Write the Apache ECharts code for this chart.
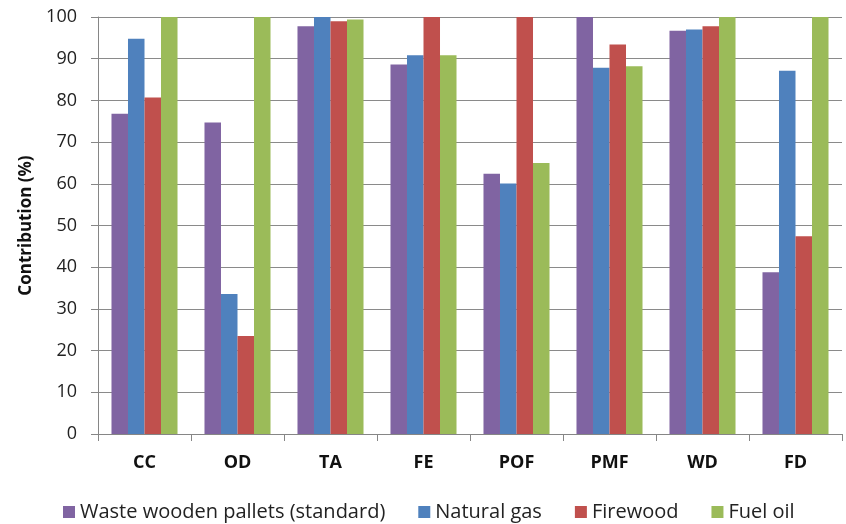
<!DOCTYPE html>
<html>
<head>
<meta charset="utf-8">
<script src="https://cdn.jsdelivr.net/npm/echarts@6/dist/echarts.min.js"></script>
<style>html,body{margin:0;padding:0;background:#fff}#c{width:846px;height:524px}</style>
</head>
<body>
<div id="c"></div>
<script>
const categories = ['CC','OD','TA','FE','POF','PMF','WD','FD'];
const seriesNames = ['Waste wooden pallets (standard)','Natural gas','Firewood','Fuel oil'];
const wastePallets = [76.8, 74.7, 97.8, 88.6, 62.4, 100, 96.7, 38.8];
const naturalGas   = [94.8, 33.6, 100, 90.8, 60.1, 87.8, 97.0, 87.1];
const firewood     = [80.7, 23.5, 99.0, 100, 100, 93.4, 97.8, 47.4];
const fuelOil      = [100, 100, 99.4, 90.8, 65.0, 88.2, 100, 100];
const yTicks = [0,10,20,30,40,50,60,70,80,90,100];
const colors = ['#8064A2','#4F81BD','#C0504D','#9BBB59'];
const values = [wastePallets, naturalGas, firewood, fuelOil];
const font = '"Open Sans", Lato, sans-serif';

const chart = echarts.init(document.getElementById('c'), null, {renderer:'canvas'});
chart.setOption({
  animation: false,
  color: colors,
  grid: {left: 98, right: 4, top: 17, bottom: 90, containLabel: false},
  legend: {
    top: 497, left: 58,
    itemWidth: 12, itemHeight: 12, itemGap: 33,
    icon: 'rect',
    textStyle: {fontFamily: font, fontSize: 20, color: '#222'},
    data: seriesNames
  },
  xAxis: {
    type: 'category', data: categories,
    axisLine: {lineStyle: {color: '#868686', width: 1}},
    axisTick: {show: true, length: 7, alignWithLabel: false, lineStyle: {color: '#868686'}},
    axisLabel: {fontFamily: font, fontWeight: 'bold', fontSize: 18, color: '#111', margin: 20}
  },
  yAxis: {
    type: 'value', min: 0, max: 100, interval: 10,
    name: 'Contribution (%)', nameLocation: 'middle', nameGap: 63, nameRotate: 90,
    nameTextStyle: {fontFamily: font, fontWeight: 'bold', fontSize: 17, color: '#111'},
    axisLine: {show: true, lineStyle: {color: '#868686', width: 1}},
    axisTick: {show: true, length: 7, lineStyle: {color: '#868686'}},
    axisLabel: {fontFamily: font, fontSize: 18, color: '#222', margin: 21,
      formatter: v => yTicks.includes(v) ? String(v) : ''},
    splitLine: {show: true, lineStyle: {color: '#8a8a8a', width: 1}}
  },
  series: values.map((d, i) => ({
    name: seriesNames[i], type: 'bar', data: d,
    barGap: '0%', barCategoryGap: '29%',
    itemStyle: {color: colors[i]}
  }))
});
</script>
</body>
</html>
